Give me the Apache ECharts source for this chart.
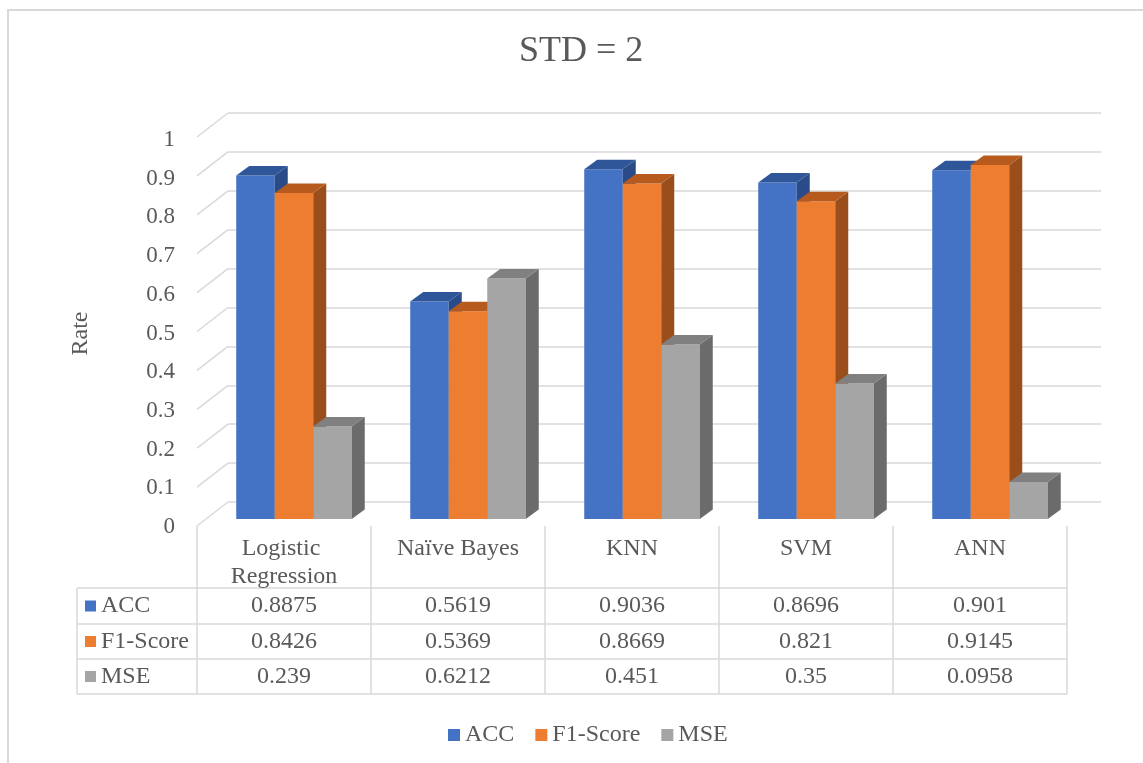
<!DOCTYPE html>
<html>
<head>
<meta charset="utf-8">
<title>STD = 2</title>
<script src="https://cdn.jsdelivr.net/npm/echarts@6/dist/echarts.min.js"></script>
<style>
  html, body { margin: 0; padding: 0; background: #ffffff; }
  #chart { width: 1143px; height: 763px; }
</style>
</head>
<body>
<div id="chart"></div>
<script>
// Classifier results
const categories = ['Logistic Regression', 'Naïve Bayes', 'KNN', 'SVM', 'ANN'];
const seriesNames = ['ACC', 'F1-Score', 'MSE'];
const accValues = [0.8875, 0.5619, 0.9036, 0.8696, 0.901];
const f1Values = [0.8426, 0.5369, 0.8669, 0.821, 0.9145];
const mseValues = [0.239, 0.6212, 0.451, 0.35, 0.0958];
const rateTicks = [0, 0.1, 0.2, 0.3, 0.4, 0.5, 0.6, 0.7, 0.8, 0.9, 1];

const seriesValues = [accValues, f1Values, mseValues];

// Face colours for each series: front, top, side
const palette = [
  { front: '#4472C4', top: '#30569A', side: '#2A4B87' },
  { front: '#ED7D31', top: '#B65A1E', side: '#9A4E1B' },
  { front: '#A5A5A5', top: '#808080', side: '#6B6B6B' }
];

const FONT = '"Liberation Serif", "Times New Roman", serif';
const TEXT = '#595959';
const LINE = '#D9D9D9';
const TABLE_FONT = '24px ' + FONT;

// 3D look: depth of each column and of the side wall
const BAR_DX = 13, BAR_DY = -9.5;
const WALL_DX = 31, WALL_DY = 24;
const BAR_FRACTION = 0.2213;   // one column's share of a category band

// Data-table layout
const TABLE_LEFT = 197, COL_W = 174, KEY_LEFT = 77;
const HEAD_TOP = 526, ROW_LINES = [588, 624, 659, 694];

function barRenderer(k) {
  const c = palette[k];
  return function (params, api) {
    const cat = api.value(0);
    const v = api.value(1);
    const base = api.coord([cat, 0]);
    const top = api.coord([cat, v]);
    const band = api.size([1, 0])[0];
    const bw = band * BAR_FRACTION;
    const x0 = base[0] - 1.5 * bw + k * bw;
    const x1 = x0 + bw;
    const yT = top[1], yB = base[1];
    return {
      type: 'group',
      children: [
        { type: 'rect', shape: { x: x0, y: yT, width: bw, height: yB - yT },
          style: { fill: c.front } },
        { type: 'polygon', shape: { points: [[x1, yT], [x1 + BAR_DX, yT + BAR_DY], [x1 + BAR_DX, yB + BAR_DY], [x1, yB]] },
          style: { fill: c.side } },
        { type: 'polygon', shape: { points: [[x0, yT], [x0 + BAR_DX, yT + BAR_DY], [x1 + BAR_DX, yT + BAR_DY], [x1, yT]] },
          style: { fill: c.top } }
      ]
    };
  };
}

// Slanted lines of the left side wall, one per tick
function wallRenderer(params, api) {
  const v = api.value(0);
  const y = api.coord([0, v])[1];
  const x = params.coordSys.x;
  return {
    type: 'line',
    shape: { x1: x - WALL_DX, y1: y + WALL_DY, x2: x, y2: y },
    style: { stroke: LINE, lineWidth: 1.5 }
  };
}

// Data table drawn under the plot
const tableGraphics = [];
tableGraphics.push({
  type: 'rect', z: -10, silent: true,
  shape: { x: 8, y: 10, width: 1300, height: 900 },
  style: { fill: null, stroke: LINE, lineWidth: 2 }
});
const tableRight = TABLE_LEFT + COL_W * categories.length;
for (let i = 0; i <= categories.length; i++) {
  const x = TABLE_LEFT + i * COL_W;
  tableGraphics.push({ type: 'line', silent: true,
    shape: { x1: x, y1: HEAD_TOP, x2: x, y2: ROW_LINES[ROW_LINES.length - 1] },
    style: { stroke: LINE, lineWidth: 1.5 } });
}
tableGraphics.push({ type: 'line', silent: true,
  shape: { x1: KEY_LEFT, y1: ROW_LINES[0], x2: KEY_LEFT, y2: ROW_LINES[ROW_LINES.length - 1] },
  style: { stroke: LINE, lineWidth: 1.5 } });
ROW_LINES.forEach(function (y) {
  tableGraphics.push({ type: 'line', silent: true,
    shape: { x1: KEY_LEFT, y1: y, x2: tableRight, y2: y },
    style: { stroke: LINE, lineWidth: 1.5 } });
});
categories.forEach(function (name, i) {
  tableGraphics.push({ type: 'text', silent: true,
    style: { text: name, x: TABLE_LEFT + i * COL_W + COL_W / 2, y: HEAD_TOP + 9,
      width: 150, overflow: 'break', lineHeight: 28,
      textAlign: 'center', textVerticalAlign: 'top',
      fill: TEXT, font: TABLE_FONT } });
});
seriesNames.forEach(function (name, k) {
  const yMid = (ROW_LINES[k] + ROW_LINES[k + 1]) / 2;
  tableGraphics.push({ type: 'rect', silent: true,
    shape: { x: 85, y: yMid - 5.5, width: 11, height: 11 },
    style: { fill: palette[k].front } });
  tableGraphics.push({ type: 'text', silent: true,
    style: { text: name, x: 101, y: yMid, textAlign: 'left', textVerticalAlign: 'middle',
      fill: TEXT, font: TABLE_FONT } });
  seriesValues[k].forEach(function (v, i) {
    tableGraphics.push({ type: 'text', silent: true,
      style: { text: String(v), x: TABLE_LEFT + i * COL_W + COL_W / 2, y: yMid,
        textAlign: 'center', textVerticalAlign: 'middle',
        fill: TEXT, font: TABLE_FONT } });
  });
});

const hiddenAxis = {
  axisLine: { show: false }, axisTick: { show: false },
  axisLabel: { show: false }, splitLine: { show: false }
};

const option = {
  backgroundColor: '#ffffff',
  animation: false,
  title: {
    text: 'STD = 2', left: 519, top: 34, padding: 0,
    textStyle: { fontFamily: FONT, fontSize: 36, fontWeight: 'normal', color: TEXT }
  },
  legend: {
    data: seriesNames, top: 723, left: 448, icon: 'rect',
    itemWidth: 12, itemHeight: 12, itemGap: 21, padding: 0,
    textStyle: { fontFamily: FONT, fontSize: 24, color: TEXT }
  },
  grid: [
    // back wall
    { left: 228, right: 42, top: 113, bottom: 261 },
    // front edge, carries the value labels
    { left: 197, right: 73, top: 140, bottom: 236 },
    // front faces of the columns
    { left: 207, right: 66, top: 132, bottom: 244 }
  ],
  xAxis: [
    Object.assign({ type: 'category', gridIndex: 0, data: categories }, hiddenAxis),
    Object.assign({ type: 'category', gridIndex: 1, data: categories }, hiddenAxis),
    Object.assign({ type: 'category', gridIndex: 2, data: categories }, hiddenAxis)
  ],
  yAxis: [
    {
      type: 'value', gridIndex: 0, min: 0, max: 1, interval: 0.1,
      axisLine: { show: false }, axisTick: { show: false }, axisLabel: { show: false },
      splitLine: { show: true, lineStyle: { color: LINE, width: 1.5 } }
    },
    {
      type: 'value', gridIndex: 1, min: 0, max: 1, interval: 0.1,
      name: 'Rate', nameLocation: 'middle', nameRotate: 90, nameGap: 104,
      nameTextStyle: { fontFamily: FONT, fontSize: 24, color: TEXT },
      axisLine: { show: false }, axisTick: { show: false }, splitLine: { show: false },
      axisLabel: { margin: 22, fontFamily: FONT, fontSize: 23, color: TEXT }
    },
    {
      type: 'value', gridIndex: 2, min: 0, max: 1, interval: 0.1,
      axisLine: { show: false }, axisTick: { show: false },
      axisLabel: { show: false }, splitLine: { show: false }
    }
  ],
  series: [
    {
      type: 'custom', name: 'wall', xAxisIndex: 0, yAxisIndex: 0, silent: true,
      renderItem: wallRenderer,
      data: rateTicks.map(function (t) { return [t]; }),
      encode: { y: 0 }
    }
  ].concat(seriesNames.map(function (name, k) {
    return {
      type: 'custom', name: name, xAxisIndex: 2, yAxisIndex: 2,
      itemStyle: { color: palette[k].front },
      renderItem: barRenderer(k),
      data: seriesValues[k].map(function (v, i) { return [i, v]; }),
      encode: { x: 0, y: 1 }
    };
  })),
  graphic: { elements: tableGraphics }
};

const chart = echarts.init(document.getElementById('chart'), null, { renderer: 'canvas' });
chart.setOption(option);
</script>
</body>
</html>
